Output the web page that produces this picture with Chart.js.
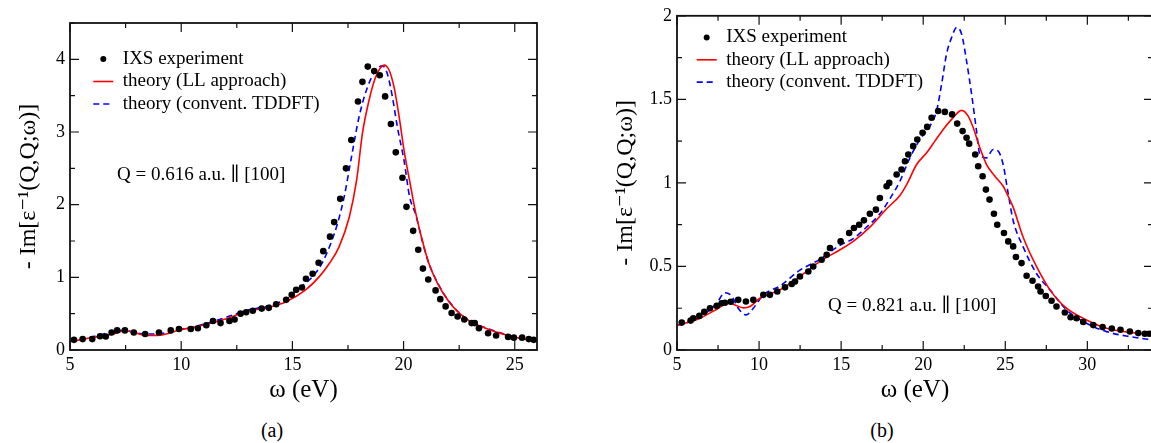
<!DOCTYPE html>
<html>
<head>
<meta charset="utf-8">
<script src="https://cdn.jsdelivr.net/npm/chart.js@4.4.0/dist/chart.umd.min.js"></script>
<style>
html, body { margin: 0; padding: 0; background: #fff; overflow: hidden; width: 1151px; height: 443px; }
#boxA { position: absolute; left: 0; top: 0; width: 575px; height: 410px; }
#boxB { position: absolute; left: 575px; top: 0; width: 600px; height: 410px; }
.cap { position: absolute; top: 419px; font: 20px "Liberation Serif", serif; transform: translateX(-50%); }
</style>
</head>
<body>
<div id="boxA"><canvas id="chartA"></canvas></div>
<div id="boxB"><canvas id="chartB"></canvas></div>
<div class="cap" style="left:272px">(a)</div>
<div class="cap" style="left:882px">(b)</div>
<script>
// ---- panel (a): Q = 0.616 a.u.
const xTicksA = [5, 10, 15, 20, 25];
const yTicksA = [0, 1, 2, 3, 4];
const expA_x = [5.18, 5.57, 6.0, 6.35, 6.61, 6.87, 7.12, 7.47, 7.87, 8.38, 9.0, 9.53, 9.9, 10.43, 10.75, 11.13, 11.43, 11.77, 12.17, 12.4,
  12.67, 12.92, 13.22, 13.62, 13.94, 14.27, 14.72, 14.97, 15.17, 15.43, 15.61, 15.91, 16.18, 16.39, 16.69, 16.88, 17.15, 17.41, 17.65, 17.95,
  18.15, 18.39, 18.68, 18.93, 19.17, 19.43, 19.65, 19.95, 20.13, 20.43, 20.66, 20.87, 21.11, 21.44, 21.65, 21.89, 22.16, 22.43, 22.73, 23.06,
  23.2, 23.39, 23.8, 24.16, 24.7, 24.96, 25.33, 25.63, 25.85];
const expA_y = [0.14, 0.15, 0.15, 0.19, 0.185, 0.24, 0.27, 0.27, 0.24, 0.22, 0.24, 0.27, 0.29, 0.29, 0.30, 0.34, 0.40, 0.37, 0.40, 0.42,
  0.50, 0.52, 0.54, 0.57, 0.58, 0.63, 0.69, 0.76, 0.83, 0.86, 0.98, 1.05, 1.20, 1.36, 1.56, 1.76, 2.08, 2.50, 2.89, 3.42,
  3.69, 3.90, 3.84, 3.78, 3.49, 3.11, 2.72, 2.37, 1.97, 1.64, 1.38, 1.12, 0.97, 0.82, 0.70, 0.60, 0.51, 0.46, 0.42, 0.37,
  0.37, 0.30, 0.23, 0.20, 0.18, 0.17, 0.17, 0.15, 0.14];
const llA_x = [5.0, 6.05, 6.94, 7.47, 7.99, 8.44, 9.04, 9.93, 10.83, 12.03, 12.92, 13.82, 14.72, 15.61, 16.21, 16.66, 17.1, 17.56, 17.89,
  18.15, 18.45, 18.75, 19.13, 19.35, 19.57, 19.8, 20.02, 20.32, 20.55, 20.84, 21.14, 21.52, 22.04, 22.79, 23.69, 24.58, 25.48, 26.0];
const llA_y = [0.115, 0.175, 0.22, 0.265, 0.23, 0.20, 0.205, 0.275, 0.33, 0.43, 0.53, 0.58, 0.665, 0.83, 1.01, 1.19, 1.42, 1.83, 2.34,
  2.98, 3.44, 3.76, 3.92, 3.85, 3.62, 3.21, 2.75, 2.25, 1.88, 1.51, 1.19, 0.92, 0.665, 0.435, 0.30, 0.21, 0.147, 0.13];
const tdA_x = [5.0, 6.05, 7.47, 7.9, 8.44, 9.04, 9.93, 10.83, 12.03, 12.92, 13.82, 14.72, 15.31, 15.91, 16.36, 16.73, 17.03, 17.33, 17.63,
  18.0, 18.38, 18.75, 19.05, 19.27, 19.5, 19.72, 20.02, 20.27, 20.55, 20.84, 21.14, 21.52, 22.04, 22.79, 23.69, 24.58, 25.48, 26.0];
const tdA_y = [0.125, 0.185, 0.275, 0.24, 0.22, 0.225, 0.285, 0.34, 0.45, 0.545, 0.60, 0.70, 0.85, 1.01, 1.21, 1.47, 1.74, 2.11, 2.61,
  3.21, 3.62, 3.85, 3.91, 3.80, 3.48, 3.07, 2.61, 2.11, 1.86, 1.50, 1.19, 0.93, 0.67, 0.44, 0.305, 0.215, 0.15, 0.13];

// ---- panel (b): Q = 0.821 a.u.
const xTicksB = [5, 10, 15, 20, 25, 30];
const yTicksB = [0, 0.5, 1, 1.5, 2];
const expB_x = [5.29, 5.83, 5.99, 6.36, 6.66, 7.01, 7.42, 7.72, 7.92, 8.27, 8.73, 9.2, 9.65, 10.26, 10.66, 11.11, 11.58, 11.99, 12.19, 12.49,
  13.0, 13.3, 13.81, 14.12, 14.32, 14.97, 15.49, 15.78, 16.1, 16.39, 16.75, 17.12, 17.36, 17.77, 17.93, 18.38, 18.68, 18.89, 19.09, 19.39,
  19.64, 19.96, 20.24, 20.51, 20.91, 21.32, 21.76, 22.07, 22.4, 22.64, 22.8, 23.17, 23.35, 23.62, 23.82, 24.04, 24.31, 24.51, 24.92, 25.18,
  25.48, 25.65, 25.99, 26.3, 26.66, 27.0, 27.15, 27.47, 27.82, 28.12, 28.63, 28.98, 29.34, 29.75, 30.36, 30.93, 31.49, 32.02, 32.59, 33.1,
  33.5, 33.77];
const expB_y = [0.164, 0.176, 0.19, 0.204, 0.228, 0.25, 0.264, 0.28, 0.283, 0.289, 0.30, 0.29, 0.30, 0.33, 0.33, 0.35, 0.375, 0.395, 0.41, 0.44,
  0.47, 0.50, 0.54, 0.57, 0.61, 0.65, 0.70, 0.73, 0.75, 0.776, 0.815, 0.84, 0.91, 0.98, 1.00, 1.05, 1.08, 1.13, 1.17, 1.22,
  1.26, 1.30, 1.335, 1.39, 1.43, 1.425, 1.41, 1.355, 1.31, 1.27, 1.235, 1.17, 1.10, 1.04, 0.96, 0.90, 0.815, 0.75, 0.70, 0.65,
  0.62, 0.557, 0.52, 0.444, 0.414, 0.38, 0.35, 0.323, 0.295, 0.26, 0.224, 0.196, 0.19, 0.168, 0.149, 0.137, 0.129, 0.121, 0.111, 0.101,
  0.097, 0.097];
const llB_x = [5.0, 6.4, 7.52, 8.13, 8.53, 9.04, 9.45, 10.05, 11.27, 12.49, 13.71, 14.93, 15.74, 16.75, 17.77, 18.58, 18.99, 19.6, 20.21,
  20.71, 21.22, 21.73, 22.34, 22.74, 23.05, 23.45, 23.86, 24.37, 24.87, 25.18, 25.48, 26.09, 26.9, 27.72, 28.73, 29.95, 31.17, 32.59, 34.0];
const llB_y = [0.146, 0.19, 0.25, 0.283, 0.27, 0.252, 0.26, 0.31, 0.36, 0.44, 0.53, 0.60, 0.65, 0.735, 0.845, 0.925, 0.99, 1.11, 1.18,
  1.25, 1.32, 1.38, 1.434, 1.40, 1.33, 1.21, 1.11, 1.04, 0.98, 0.92, 0.855, 0.675, 0.50, 0.36, 0.25, 0.18, 0.13, 0.105, 0.095];
const tdB_x = [5.0, 6.4, 7.42, 7.92, 8.33, 8.73, 9.2, 9.65, 10.26, 11.27, 12.49, 13.71, 14.93, 15.74, 16.55, 17.36, 17.97, 18.58, 19.19,
  19.8, 20.41, 20.81, 21.12, 21.42, 21.73, 22.04, 22.34, 22.64, 22.95, 23.25, 23.45, 23.86, 24.26, 24.57, 24.87, 25.18, 25.48, 26.09,
  26.9, 27.72, 28.73, 29.95, 31.17, 32.59, 34.0];
const tdB_y = [0.146, 0.196, 0.28, 0.343, 0.323, 0.25, 0.21, 0.25, 0.33, 0.383, 0.478, 0.543, 0.627, 0.667, 0.735, 0.815, 0.905, 1.01, 1.15,
  1.26, 1.34, 1.43, 1.59, 1.77, 1.87, 1.93, 1.89, 1.73, 1.53, 1.31, 1.17, 1.15, 1.20, 1.19, 1.11, 0.935, 0.775, 0.617,
  0.458, 0.36, 0.24, 0.16, 0.11, 0.08, 0.06];

const legendLabels = ['IXS experiment', 'theory (LL approach)', 'theory (convent. TDDFT)'];
const xTitle = 'ω (eV)';
const yTitle = '- Im[ε⁻¹(Q,Q;ω)]';
const noteA = 'Q = 0.616 a.u. ∥ [100]';
const noteB = 'Q = 0.821 a.u. ∥ [100]';

const RED = '#ff0000';
const BLUE = '#0000ff';
const SERIF = '"Liberation Serif", "DejaVu Serif", serif';

Chart.defaults.font.family = SERIF;
Chart.defaults.color = '#000';

const pts = (xs, ys) => xs.map((x, i) => ({x: x, y: ys[i]}));
const isMajor = (v, step) => Math.abs(v / step - Math.round(v / step)) < 1e-6;

// frame with inward ticks on all four sides, legend and the Q note
const framePlugin = {
  id: 'frame',
  afterDraw(chart, args, o) {
    const {ctx, chartArea: a, scales: {x, y}} = chart;
    ctx.save();
    ctx.strokeStyle = '#111';
    ctx.lineWidth = 1.2;
    ctx.beginPath();
    for (let v = x.min; v <= x.max + 1e-9; v += o.xMinor) {
      const px = x.getPixelForValue(v);
      const len = isMajor(v, o.xMajor) ? 9 : 5;
      ctx.moveTo(px, a.bottom); ctx.lineTo(px, a.bottom - len);
      ctx.moveTo(px, a.top); ctx.lineTo(px, a.top + len);
    }
    for (let v = y.min; v <= y.max + 1e-9; v += o.yMinor) {
      const py = y.getPixelForValue(v);
      const len = isMajor(v, o.yMajor) ? 9 : 5;
      ctx.moveTo(a.left, py); ctx.lineTo(a.left + len, py);
      ctx.moveTo(a.right, py); ctx.lineTo(a.right - len, py);
    }
    ctx.stroke();
    ctx.lineWidth = 1.8;
    ctx.strokeRect(a.left, a.top, a.right - a.left, a.bottom - a.top);

    // legend
    const L = o.legend;
    ctx.font = '19px ' + SERIF;
    ctx.fillStyle = '#000';
    ctx.textBaseline = 'middle';
    ctx.beginPath();
    ctx.arc(L.x, L.y, 3, 0, Math.PI * 2);
    ctx.fill();
    ctx.lineWidth = 1.6;
    ctx.strokeStyle = RED;
    ctx.beginPath();
    ctx.moveTo(L.x - 10, L.y + L.dy); ctx.lineTo(L.x + 10, L.y + L.dy);
    ctx.stroke();
    ctx.strokeStyle = BLUE;
    ctx.setLineDash([6, 4]);
    ctx.beginPath();
    ctx.moveTo(L.x - 10, L.y + 2 * L.dy); ctx.lineTo(L.x + 10, L.y + 2 * L.dy);
    ctx.stroke();
    ctx.setLineDash([]);
    legendLabels.forEach((t, i) => ctx.fillText(t, L.x + 19.5, L.y + i * L.dy));

    ctx.fillText(o.note.text, o.note.x, o.note.y);
    ctx.restore();
  }
};

function makeChart(id, c) {
  return new Chart(document.getElementById(id), {
    type: 'line',
    data: {
      datasets: [
        {label: legendLabels[0], data: c.exp, showLine: false, pointRadius: 3.3, pointBackgroundColor: '#000', pointBorderWidth: 0},
        {label: legendLabels[1], data: c.ll, borderColor: RED, borderWidth: 1.6, pointRadius: 0, cubicInterpolationMode: 'monotone'},
        {label: legendLabels[2], data: c.td, borderColor: BLUE, borderWidth: 1.6, borderDash: [6, 4], pointRadius: 0, cubicInterpolationMode: 'monotone'}
      ]
    },
    options: {
      responsive: true,
      maintainAspectRatio: false,
      animation: false,
      events: [],
      layout: {padding: c.pad},
      plugins: {
        legend: {display: false},
        tooltip: {enabled: false},
        frame: c.frame
      },
      scales: {
        x: {
          type: 'linear', min: c.xMin, max: c.xMax,
          afterBuildTicks: s => { s.ticks = c.xTicks.map(v => ({value: v})); },
          afterFit: s => { s.height = 55; },
          grid: {display: false, drawTicks: false},
          border: {display: false},
          ticks: {padding: 4, maxRotation: 0, font: {size: 18}, color: '#000', callback: v => String(v)},
          title: {display: true, text: xTitle, font: {size: 25}, color: '#000', padding: 0}
        },
        y: {
          type: 'linear', min: 0, max: c.yMax,
          afterBuildTicks: s => { s.ticks = c.yTicks.map(v => ({value: v})); },
          afterFit: s => { s.width = c.yWidth; },
          grid: {display: false, drawTicks: false},
          border: {display: false},
          ticks: {padding: 5, font: {size: 18}, color: '#000', callback: v => String(v)},
          title: {display: true, text: yTitle, font: {size: 24}, color: '#000', padding: 0}
        }
      }
    },
    plugins: [framePlugin]
  });
}

makeChart('chartA', {
  exp: pts(expA_x, expA_y), ll: pts(llA_x, llA_y), td: pts(tdA_x, tdA_y),
  xMin: 5, xMax: 26, yMax: 4.5, xTicks: xTicksA, yTicks: yTicksA,
  pad: {left: 14, right: 38, top: 23, bottom: 5}, yWidth: 56,
  frame: {xMajor: 5, xMinor: 2.5, yMajor: 1, yMinor: 0.5,
    legend: {x: 103.3, y: 59, dy: 22.5}, note: {text: noteA, x: 117, y: 175}}
});

makeChart('chartB', {
  exp: pts(expB_x, expB_y), ll: pts(llB_x, llB_y), td: pts(tdB_x, tdB_y),
  xMin: 5, xMax: 34, yMax: 2, xTicks: xTicksB, yTicks: yTicksB,
  pad: {left: 36, right: 22, top: 14, bottom: 5}, yWidth: 66,
  frame: {xMajor: 5, xMinor: 2.5, yMajor: 0.5, yMinor: 0.25,
    legend: {x: 131.7, y: 37.5, dy: 22.3}, note: {text: noteB, x: 253, y: 306}}
});
</script>
</body>
</html>
